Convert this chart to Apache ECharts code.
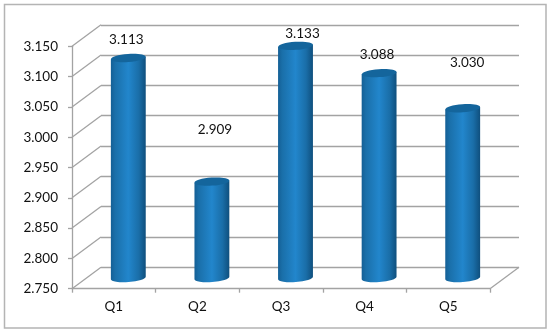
<!DOCTYPE html>
<html>
<head>
<meta charset="utf-8">
<style>
html, body { margin: 0; padding: 0; background: #fff; }
#id-div-chart { width: 550px; height: 332px; }
</style>
<script src="https://cdn.jsdelivr.net/npm/echarts@6/dist/echarts.min.js"></script>
</head>
<body>
<div id="id-div-chart"></div>
<script>
var categories = ['Q1', 'Q2', 'Q3', 'Q4', 'Q5']
var values = [3.113, 2.909, 3.133, 3.088, 3.030]
var tickValues = [2.75, 2.8, 2.85, 2.9, 2.95, 3, 3.05, 3.1, 3.15]

// 数据标签是手动拖过的，相对柱顶的偏移
var labelShift = [[-2, -18], [3, -51.5], [7, -12], [-2, -18], [4.5, -46]]

var font = 'Lato, "Open Sans", sans-serif'
var textColor = '#111'
var lineColor = '#a3a3a3'
var depth = [29, -21.5]
var barRatio = 0.417

// 左侧每个刻度一条斜线，最后一条在右下角
var renderDepthLine = function(params, api) {
    var rect = params.coordSys
    var p = api.coord([0, api.value(1)])
    var x = params.dataIndex < tickValues.length ? rect.x : rect.x + rect.width
    return {
        type: 'line',
        shape: { x1: x, y1: p[1], x2: x + depth[0], y2: p[1] + depth[1] },
        style: { stroke: lineColor, lineWidth: 1.3 },
        silent: true,
    }
}

var cylinderPath = function(left, right, top, bottom, rx, ry, tilt) {
    var t = Math.tan(tilt) * rx
    return 'M' + left + ' ' + (top + t) +
        'L' + left + ' ' + (bottom + t) +
        'A' + rx + ' ' + ry + ' ' + (-tilt * 180 / Math.PI) + ' 0 0 ' + right + ' ' + (bottom - t) +
        'L' + right + ' ' + (top - t) + 'Z'
}

var renderCylinder = function(params, api) {
    var i = api.value(0)
    var top = api.coord([i, api.value(1)])
    var base = api.coord([i, tickValues[0]])
    var rx = api.size([1, 0])[0] * barRatio / 2
    var ry = 4
    var tilt = 4 * Math.PI / 180
    var cx = top[0] + depth[0] / 2
    var topY = top[1] + depth[1] / 2
    var baseY = base[1] + depth[1] / 2
    var shift = labelShift[i]
    return {
        type: 'group',
        silent: true,
        children: [
            {
                type: 'path',
                shape: {
                    pathData: cylinderPath(cx - rx, cx + rx, topY, baseY, rx, ry, tilt),
                },
                style: {
                    fill: {
                        type: 'linear', x: 0, y: 0, x2: 1, y2: 0,
                        colorStops: [
                            { offset: 0, color: '#145f95' },
                            { offset: 0.12, color: '#1a6fa9' },
                            { offset: 0.5, color: '#2286cc' },
                            { offset: 0.8, color: '#1a6ea8' },
                            { offset: 1, color: '#0f4f7d' },
                        ],
                    },
                },
            },
            {
                type: 'ellipse',
                x: cx,
                y: topY,
                rotation: tilt,
                shape: { cx: 0, cy: 0, rx: rx, ry: ry },
                style: { fill: '#14659c' },
            },
            {
                type: 'text',
                style: {
                    text: api.value(1).toFixed(3),
                    x: cx + shift[0],
                    y: topY + shift[1],
                    align: 'center',
                    verticalAlign: 'middle',
                    font: '13.5px ' + font,
                    fill: textColor,
                },
            },
        ],
    }
}

var chartOption = function() {
    var depthData = tickValues.map((v) => [0, v])
    depthData.push([4, tickValues[0]])
    var option = {
        animation: false,
        backgroundColor: '#fff',
        graphic: [
            {
                type: 'rect',
                shape: { x: 4.5, y: 4.5, width: 541.5, height: 323.5 },
                style: { fill: 'none', stroke: '#b4b4b4', lineWidth: 1.5 },
                silent: true,
            },
        ],
        grid: [
            { left: 72, top: 46.3, width: 418, height: 242.4 },
            { left: 72 + depth[0], top: 46.3 + depth[1], width: 418, height: 242.4 },
        ],
        xAxis: [
            {
                type: 'category',
                gridIndex: 0,
                data: categories,
                boundaryGap: true,
                axisLine: { lineStyle: { color: lineColor, width: 1.3 } },
                axisTick: { show: true, alignWithLabel: false, length: 4, lineStyle: { color: lineColor, width: 1.3 } },
                axisLabel: { color: textColor, fontSize: 13.5, fontFamily: font, margin: 11 },
            },
            {
                type: 'category',
                gridIndex: 1,
                data: categories,
                axisLine: { show: false },
                axisTick: { show: false },
                axisLabel: { show: false },
            },
        ],
        yAxis: [
            {
                type: 'value',
                gridIndex: 0,
                min: tickValues[0],
                max: tickValues[tickValues.length - 1],
                interval: 0.05,
                axisLine: { show: true, lineStyle: { color: lineColor, width: 1.3 } },
                axisTick: { show: true, length: 4, lineStyle: { color: lineColor, width: 1.3 } },
                axisLabel: {
                    color: textColor,
                    fontSize: 13.5,
                    fontFamily: font,
                    margin: 14,
                    formatter: (v) => v.toFixed(3),
                },
                splitLine: { show: false },
            },
            {
                type: 'value',
                gridIndex: 1,
                min: tickValues[0],
                max: tickValues[tickValues.length - 1],
                interval: 0.05,
                axisLine: { show: false },
                axisTick: { show: false },
                axisLabel: { show: false },
                splitLine: { show: true, lineStyle: { color: lineColor, width: 1.3 } },
            },
        ],
        series: [
            {
                type: 'custom',
                xAxisIndex: 0,
                yAxisIndex: 0,
                coordinateSystem: 'cartesian2d',
                data: depthData,
                encode: { x: 0, y: 1 },
                renderItem: renderDepthLine,
                z: 1,
            },
            {
                type: 'custom',
                xAxisIndex: 0,
                yAxisIndex: 0,
                coordinateSystem: 'cartesian2d',
                data: values.map((v, i) => [i, v]),
                encode: { x: 0, y: 1 },
                renderItem: renderCylinder,
                z: 3,
            },
        ],
    }
    return option
}

var __main = function() {
    var chart = echarts.init(document.querySelector('#id-div-chart'))
    chart.setOption(chartOption())
}

__main()
</script>
</body>
</html>
